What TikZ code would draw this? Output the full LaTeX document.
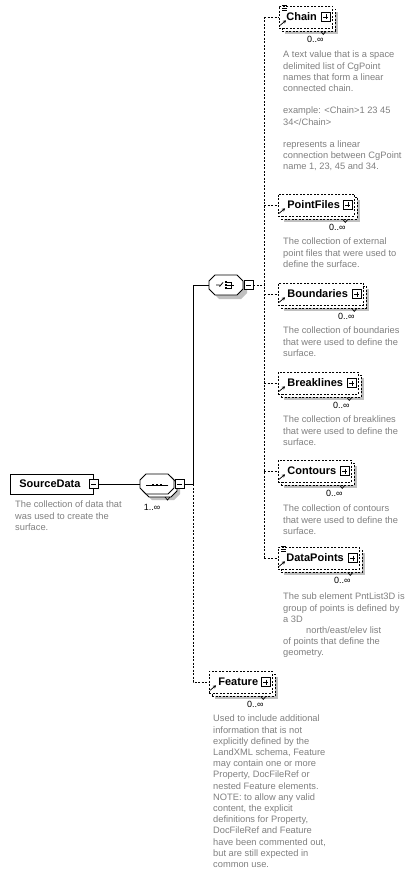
\documentclass[tikz,border=0pt]{standalone}
\usepackage{fontspec}
\setmainfont{Liberation Sans}
\usetikzlibrary{arrows.meta,positioning,shadows}
\definecolor{mGrey}{HTML}{808080}
\definecolor{mShade}{HTML}{C0C0C0}
\tikzset{
  lnk/.style={line width=0.8pt, line cap=rect},
  optlnk/.style={line width=0.8pt, dash pattern=on 2pt off 1.5pt},
  root/.style={draw, fill=white, line width=0.8pt, anchor=west, align=left,
    text width=#1, minimum height=20pt, inner xsep=0pt, inner ysep=0pt,
    font=\bfseries\fontsize{11}{12}\selectfont},
  optelem/.style={root=#1, minimum height=22pt, dash pattern=on 2pt off 1.5pt,
    general shadow={fill=mShade, draw=none, shadow xshift=6pt, shadow yshift=-6pt},
    general shadow={draw, fill=white, line width=0.8pt, dash pattern=on 2pt off 1.5pt,
      shadow xshift=3pt, shadow yshift=-3pt}},
  pbox/.style={draw, solid, fill=white, line width=0.7pt, minimum size=9pt, inner sep=0pt},
  plusbox/.style={pbox, path picture={\draw[solid, line width=0.7pt]
      ([yshift=-2pt]path picture bounding box.north) -- ([yshift=2pt]path picture bounding box.south)
      ([xshift=2pt]path picture bounding box.west) -- ([xshift=-2pt]path picture bounding box.east);}},
  minusbox/.style={pbox, path picture={\draw[solid, line width=0.7pt]
      ([xshift=2pt]path picture bounding box.west) -- ([xshift=-2pt]path picture bounding box.east);}},
  compbox/.style={minimum width=34pt, minimum height=20pt, inner sep=0pt},
  octo/.pic={\path[pic actions] (-17,-4) -- (-11,-10) -- (11,-10) -- (17,-4)
      -- (17,4) -- (11,10) -- (-11,10) -- (-17,4) -- cycle;},
  mult/.style={font=\fontsize{9}{11}\selectfont, inner sep=0pt},
  desc/.style={font=\fontsize{9.3}{11.2}\selectfont, text=mGrey, align=left,
    anchor=north west, inner sep=0pt},
  arr/.style={-{Stealth[length=3pt, width=3.5pt]}, line width=0.7pt, solid},
}
\begin{document}
\begin{tikzpicture}[x=1pt, y=-1pt]
  \path[use as bounding box, fill=white] (0,0) rectangle (413,874);
  % root element and sequence
  \node[root=83pt] (src) at (10,484) {\hspace*{9pt}SourceData};
  \node[minusbox] (srcM) at (src.east) {};
  \node[desc] (srcD) at (15,501) {The collection of data that\\was used to create the\\surface.};
  \node[compbox] (seq) at (157,484) {};
  \pic[fill=mShade] at ([shift={(6,6)}]seq.center) {octo};
  \pic[draw, fill=white, line width=0.8pt] at ([shift={(3,3)}]seq.center) {octo};
  \pic[draw, fill=white, line width=0.8pt] at (seq.center) {octo};
  \node[minusbox, right=0.5pt of seq] (seqM) {};
  \node[mult, below=10pt of seq, xshift=-5pt] (seqN) {1..∞};
  \draw[lnk] ([shift={(-11,1)}]seq.center) -- ([shift={(11,1)}]seq.center);
  \foreach \dx in {-4,0,4}
    \fill ([shift={(\dx,1)}]seq.center) +(-1.3,-1.3) rectangle +(1.3,1.3);
  \draw[line width=0.7pt] ([shift={(8,13)}]seq.center) -- ++(2.5,3) -- ++(2.5,-3);
  % choice
  \node[compbox] (choice) at (226,285) {};
  \pic[fill=mShade] at ([shift={(4,4)}]choice.center) {octo};
  \pic[draw, fill=white, line width=0.8pt] at (choice.center) {octo};
  \node[minusbox, right=0.5pt of choice] (choiceM) {};
  \begin{scope}[shift={(choice.center)}, line width=0.8pt]
    \draw (-10,0) -- (-6.5,0) (-6.5,1.5) -- (-3,-2.5);
    \foreach \dy in {-3,0,3} \fill (-1,\dy-1) rectangle (1,\dy+1);
    \draw (1,-3) -- (5,-3) -- (5,3) -- (1,3) (1,0) -- (8,0);
  \end{scope}
  % children
  \node[optelem=53pt] (chain) at (279,17) {\hspace*{7pt}Chain};
  \node[optelem=76pt] (files) at (278,205) {\hspace*{9pt}PointFiles};
  \node[optelem=85pt] (bounds) at (278,294) {\hspace*{9pt}Boundaries};
  \node[optelem=80pt] (brk) at (278,383) {\hspace*{9pt}Breaklines};
  \node[optelem=73pt] (cont) at (278,471) {\hspace*{9pt}Contours};
  \node[optelem=81pt] (pts) at (278,558) {\hspace*{8pt}DataPoints};
  \node[optelem=63pt] (feat) at (209,682) {\hspace*{9pt}Feature};
  \foreach \n in {chain,files,bounds,brk,cont,pts,feat} {
    \node[plusbox, left=2pt of \n.east] (\n P) {};
    \node[mult, below left=8pt and 9pt of \n.south east] (\n N) {0..∞};
    \draw[arr] ([shift={(1,-3)}]\n.south west) -- ++(6,-5);
    \draw[line width=0.7pt] ([shift={(-12,3)}]\n.south east) -- ++(2.5,3) -- ++(2.5,-3);
  }
  \foreach \n in {chain,pts}
    \draw[line width=0.7pt] ([shift={(3,0)}]\n.north west) -- ++(5,0)
      ([shift={(3,2.5)}]\n.north west) -- ++(5,0) ([shift={(3,5)}]\n.north west) -- ++(5,0);
  % descriptions
  \node[desc] (chainD) at (283,51) {A text value that is a space\\delimited list of CgPoint\\names that form a linear\\connected chain.\\[11.2pt]example: <Chain>1 23 45\\34</Chain>\\[11.2pt]represents a linear\\connection between CgPoint\\name 1, 23, 45 and 34.};
  \node[desc] (filesD) at (283,238) {The collection of external\\point files that were used to\\define the surface.};
  \node[desc] (boundsD) at (283,327) {The collection of boundaries\\that were used to define the\\surface.};
  \node[desc] (brkD) at (283,416) {The collection of breaklines\\that were used to define the\\surface.};
  \node[desc] (contD) at (283,505) {The collection of contours\\that were used to define the\\surface.};
  \node[desc] (ptsD) at (283,593) {The sub element PntList3D is\\group of points is defined by\\a 3D\\\hspace*{23pt}north/east/elev list\\of points that define the\\geometry.};
  \node[desc] (featD) at (213,715) {Used to include additional\\information that is not\\explicitly defined by the\\LandXML schema, Feature\\may contain one or more\\Property, DocFileRef or\\nested Feature elements.\\NOTE: to allow any valid\\content, the explicit\\definitions for Property,\\DocFileRef and Feature\\have been commented out,\\but are still expected in\\common use.};
  % connectors
  \coordinate (trunk) at (193,484);
  \coordinate (bus) at (264,285);
  \draw[lnk] (srcM.east) -- (seq.west);
  \draw[lnk] (seqM.east) -- (trunk);
  \draw[lnk] (trunk) |- (choice.west);
  \draw[optlnk] (trunk) |- (feat.west);
  \draw[optlnk] (choiceM.east) -- (bus);
  \draw[optlnk] (bus |- chain.west) -- (bus |- pts.west);
  \foreach \n in {chain,files,bounds,brk,cont,pts}
    \draw[optlnk] (bus |- \n.west) -- (\n.west);
\end{tikzpicture}
\end{document}
